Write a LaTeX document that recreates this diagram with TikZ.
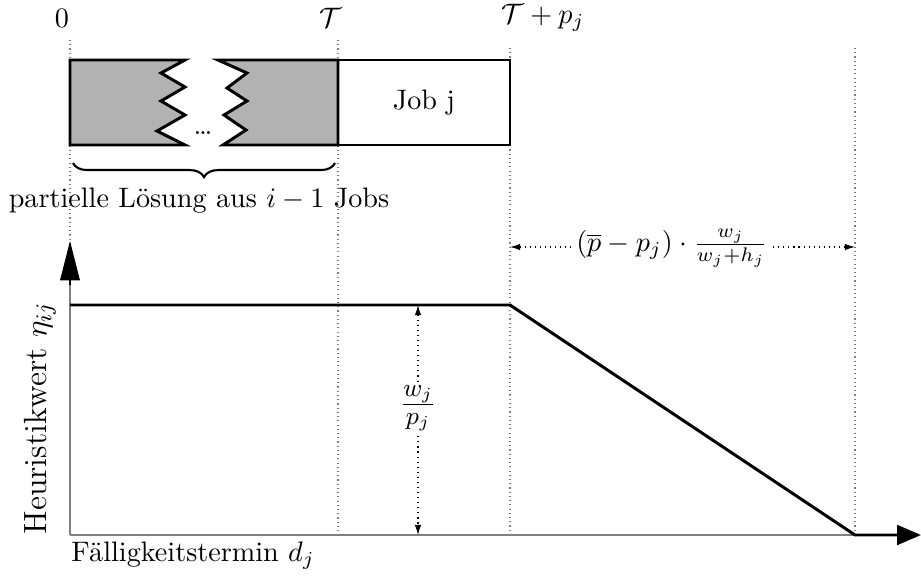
\documentclass[tikz,border=0pt]{standalone}
\usetikzlibrary{arrows.meta,decorations.pathreplacing}
\def\myu{0.355pt}
\tikzset{
  guide/.style={gray, line width=0.4pt, dash pattern=on 0.4pt off 1.1pt},
  dimline/.style={black, line width=0.4pt, dash pattern=on 0.4pt off 1.4pt, {Latex[length=3.6pt,width=2.3pt]}-{Latex[length=3.6pt,width=2.3pt]}},
  block/.style={line width=1.05pt, draw=black},
  graph/.style={line width=1.05pt, black, line join=miter},
  lbl/.style={inner sep=1pt},
  toplbl/.style={inner sep=0pt},
}
\begin{document}
\begin{tikzpicture}[x=\myu,y=-\myu]
\useasboundingbox (0,0) rectangle (921,582);
% guides
\coordinate (g0t) at (70,40);   \coordinate (g0b) at (70,535);
\coordinate (g1t) at (338,40);  \coordinate (g1b) at (338,535);
\coordinate (g2t) at (510,48);  \coordinate (g2b) at (510,535);
\coordinate (g3t) at (855,48);  \coordinate (g3b) at (855,535);
\draw[guide] (g0t) -- (g0b);
\draw[guide] (g1t) -- (g1b);
\draw[guide] (g2t) -- (g2b);
\draw[guide] (g3t) -- (g3b);
% top labels
\node[toplbl] (l0) at (62,18) {$0$};
\node[toplbl] (lT) at (331,18) {$\mathcal{T}$};
\node[toplbl] (lTp) at (543,18) {$\mathcal{T}+p_j$};
% partial solution blocks
\draw[block, fill=black!30] (70,60) -- (185,60) -- (161,73) -- (185,87) -- (161,101) -- (185,115) -- (157,131) -- (185,145) -- (70,145) -- cycle;
\draw[block, fill=black!30] (218,60) -- (338,60) -- (338,145) -- (223,145) -- (246,130) -- (224,115) -- (247,101) -- (227,88) -- (247,73) -- cycle;
\node (dots) at (203,133) {\dots};
\node[block, draw, minimum width=172*\myu, minimum height=85*\myu, inner sep=0pt] (job) at (424,102.5) {Job j};
% brace
\coordinate (bl) at (73,163);
\coordinate (br) at (335,163);
\draw[line width=0.75pt, decorate, decoration={brace, mirror, amplitude=5pt}] (bl) -- (br);
\node[lbl] (part) at (199,201) {partielle Lösung aus $i-1$ Jobs};
% horizontal dimension
\coordinate (hl) at (510,247);
\coordinate (hr) at (855,247);
\draw[dimline] (hl) -- (hr);
\node[fill=white, inner sep=1pt] (hlab) at (672,248) {$(\overline{p}-p_j)\cdot\frac{w_j}{w_j+h_j}$};
% axes
\coordinate (O) at (70,535);
\coordinate (ytop) at (70,241);
\coordinate (xend) at (921,535);
\coordinate (xk) at (855,535);
\draw[gray, line width=0.4pt] (O) -- (xk);
\draw[gray, line width=0.4pt] (O) -- (70,285);
\draw[line width=0.4pt, -{Triangle[length=14pt,width=7pt]}] (70,285) -- (ytop);
% graph
\coordinate (p1) at (70,305);
\coordinate (p2) at (510,305);
\draw[graph, -{Triangle[length=8.5pt,width=7pt]}] (p1) -- (p2) -- (xk) -- (xend);
% vertical dimension
\coordinate (vt) at (418,305);
\coordinate (vb) at (418,535);
\draw[dimline] (vt) -- (vb);
\node[fill=white, inner sep=1pt, font=\fontsize{12.5}{15}\selectfont] (vlab) at (418,408) {$\frac{w_j}{p_j}$};
% axis labels
\node[rotate=90, lbl, font=\fontsize{11.4}{14}\selectfont] (ylab) at (40,418) {Heuristikwert $\eta_{ij}$};
\node[anchor=west, lbl] (xlab) at (68,556) {Fälligkeitstermin $d_j$};
\end{tikzpicture}
\end{document}
